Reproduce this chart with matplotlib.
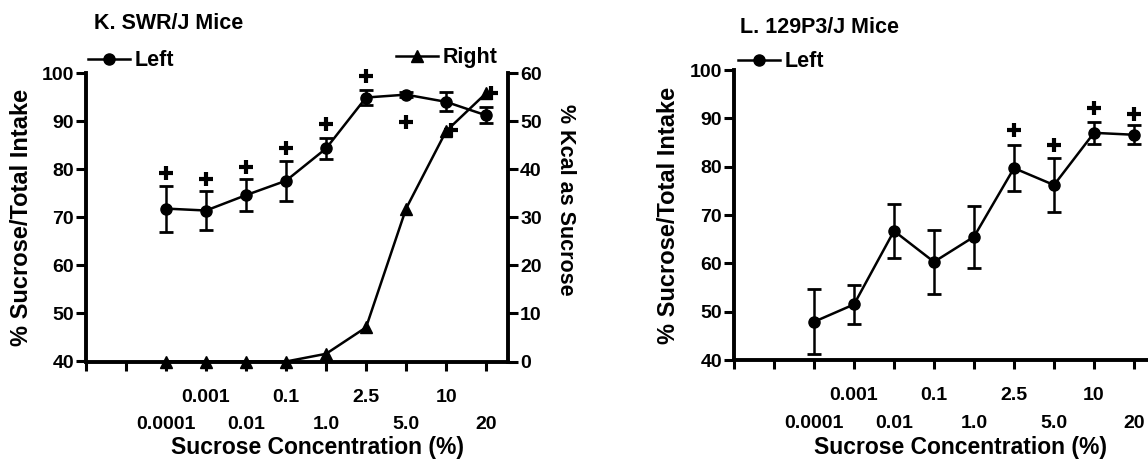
import numpy as np
import matplotlib
matplotlib.use("Agg")
import matplotlib.pyplot as plt

plt.rcParams["font.family"] = ["Liberation Sans", "DejaVu Sans"]
plt.rcParams["font.weight"] = "bold"
plt.rcParams["axes.labelweight"] = "bold"

# sucrose concentrations (%), plotted as evenly spaced categories
conc_top = ["", "0.001", "0.1", "2.5", "10"]
conc_bottom = ["", "0.0001", "0.01", "1.0", "5.0", "20"]
n_conc = 9
first_slot = 2

# K. SWR/J mice
swr_pref = [71.8, 71.4, 74.6, 77.6, 84.3, 94.9, 95.5, 94.0, 91.2]
swr_err = [4.8, 4.1, 3.3, 4.2, 2.2, 1.5, 0.5, 2.0, 1.7]
swr_kcal = [0.0, 0.0, 0.0, 0.0, 1.6, 7.1, 31.8, 47.9, 55.8]
swr_sig_pref = [79.2, 77.9, 80.5, 84.4, 89.3, 99.3, 89.8]     # slots 0..6
swr_sig_kcal = [48.2, 55.8]                                    # slots 7..8

# L. 129P3/J mice
p129_pref = [47.9, 51.5, 66.7, 60.3, 65.5, 79.7, 76.2, 87.0, 86.6]
p129_err = [6.7, 4.0, 5.5, 6.6, 6.4, 4.8, 5.5, 2.3, 2.0]
p129_sig = [87.6, 84.5, 92.1, 91.0]                            # slots 5..8

W, H = 1148, 461
LW = 2.8
TICK_FS = 14
PLUS = dict(color="black", ms=10, mew=3, clip_on=False, ls="none", marker="+")


def px(x0, y0, w, h):
    return [x0 / W, (H - y0 - h) / H, w / W, h / H]


def style_axes(ax, xmax):
    ax.set_xlim(0, xmax)
    ax.set_ylim(40, 100)
    ax.set_yticks(np.arange(40, 101, 10))
    ax.spines["top"].set_visible(False)
    ax.spines["right"].set_visible(False)
    for s in ("left", "bottom"):
        ax.spines[s].set_linewidth(LW)
    ax.set_xticks(np.arange(1, 10, 2), conc_top)
    ax.set_xticks(np.arange(0, 11, 2), conc_bottom, minor=True)
    ax.tick_params(axis="x", which="both", length=6.5, width=2.2, labelsize=TICK_FS)
    ax.tick_params(axis="x", which="major", pad=13)
    ax.tick_params(axis="x", which="minor", pad=33)
    ax.tick_params(axis="y", length=7, width=2.2, pad=1.5, labelsize=TICK_FS)
    ax.set_xlabel("Sucrose Concentration (%)", fontsize=16.5, va="center")
    ax.xaxis.set_label_coords(0.548, -0.297)
    ax.set_ylabel("% Sucrose/Total Intake", fontsize=17, va="center")
    ax.yaxis.set_label_coords(-0.152, 0.5)


def pref_line(ax, x, y, err):
    eb = ax.errorbar(x, y, yerr=err, color="black", lw=1.8, marker="o", ms=8,
                     elinewidth=1.8, capsize=4.8, capthick=2, clip_on=False)
    return eb.lines[0]


def add_legend(ax, handle, label, anchor):
    ax.legend([handle], [label], loc="center left", bbox_to_anchor=anchor, frameon=False,
              fontsize=15.5, handlelength=1.95, handletextpad=0.2, borderpad=0, borderaxespad=0)


fig = plt.figure(figsize=(W / 100, H / 100), dpi=100)
x = np.arange(n_conc) + first_slot

# ---- left panel ----
ax1 = fig.add_axes(px(86, 73, 421.7, 288.5))
style_axes(ax1, 10.54)
h_left = pref_line(ax1, x, swr_pref, swr_err)
ax1.plot(x[:len(swr_sig_pref)], swr_sig_pref, **PLUS)
ax1.text(0.02, 1.17, "K. SWR/J Mice", transform=ax1.transAxes, fontsize=15.5, va="center", ha="left")
add_legend(ax1, h_left, "Left", (0.005, 1.042))

ax2 = ax1.twinx()
for s in ("top", "left", "bottom"):
    ax2.spines[s].set_visible(False)
ax2.spines["right"].set_linewidth(LW)
ax2.set_ylim(0, 60)
ax2.set_yticks(np.arange(0, 61, 10))
ax2.tick_params(axis="y", length=7, width=2.2, pad=2, labelsize=TICK_FS)
h_right, = ax2.plot(x, swr_kcal, color="black", lw=1.8, marker="^", ms=8, clip_on=False)
ax2.plot(x[-len(swr_sig_kcal):] + 0.12, swr_sig_kcal, **PLUS)
ax2.set_ylabel("% Kcal as Sucrose", fontsize=15.5, rotation=-90, va="center")
ax2.yaxis.set_label_coords(1.136, 0.56)
add_legend(ax2, h_right, "Right", (0.735, 1.052))

# ---- right panel ----
ax3 = fig.add_axes(px(734, 70, 414, 290))
style_axes(ax3, 10.35)
ax3.xaxis.set_label_coords(0.547, -0.30)
ax3.yaxis.set_label_coords(-0.159, 0.5)
h_left3 = pref_line(ax3, x, p129_pref, p129_err)
ax3.plot(x[-len(p129_sig):], p129_sig, **PLUS)
ax3.text(0.0145, 1.145, "L. 129P3/J Mice", transform=ax3.transAxes, fontsize=15.5, va="center", ha="left")
add_legend(ax3, h_left3, "Left", (0.01, 1.028))

fig.savefig("out.png", dpi=100)
